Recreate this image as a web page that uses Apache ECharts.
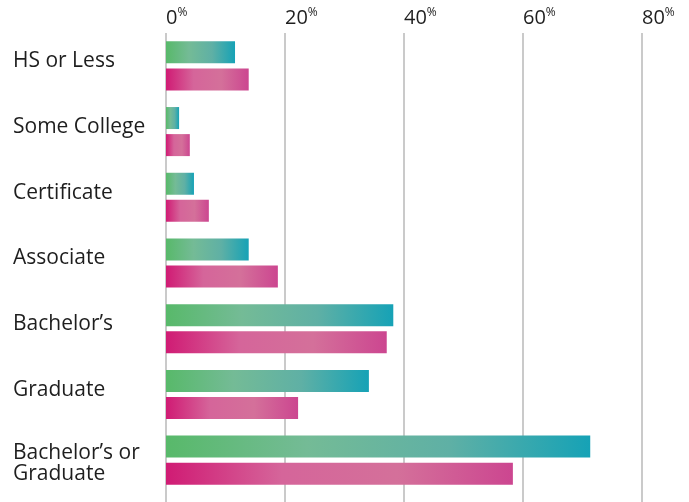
<!DOCTYPE html>
<html>
<head>
<meta charset="utf-8">
<script src="https://cdn.jsdelivr.net/npm/echarts@6/dist/echarts.min.js"></script>
<style>
  html, body { margin: 0; padding: 0; background: #fff; }
  #chart { width: 689px; height: 502px; }
</style>
</head>
<body>
<div id="chart"></div>
<script>
const categories = ['HS or Less', 'Some College', 'Certificate', 'Associate', 'Bachelor’s', 'Graduate', 'Bachelor’s or\nGraduate'];
const greenValues = [11.6, 2.2, 4.7, 13.9, 38.2, 34.1, 71.3];
const pinkValues = [13.9, 4.0, 7.2, 18.8, 37.1, 22.2, 58.3];
const ticks = [0, 20, 40, 60, 80];

const font = '"Open Sans", "Noto Sans", sans-serif';

const chart = echarts.init(document.getElementById('chart'));

// horizontal gradient in each bar's own box
function grad(stops) {
  return new echarts.graphic.LinearGradient(0, 0, 1, 0, stops.map((c, i) => ({ offset: i / (stops.length - 1), color: c })));
}
const greenGrad = grad(['#58b96a', '#74bb96', '#5fb0a5', '#16a2b6']);
const pinkGrad = grad(['#d01b74', '#d5659a', '#d4709a', '#cc4690']);

const option = {
  animation: false,
  grid: [
    // grid lines, run down to the bottom edge
    { left: 166, right: 47, top: 33, bottom: 0 },
    // bars
    { left: 166, right: 47, top: 33, bottom: 9 }
  ],
  xAxis: [
    {
      gridIndex: 0,
      type: 'value',
      position: 'top',
      min: ticks[0],
      max: ticks[ticks.length - 1],
      interval: 20,
      axisLine: { show: false },
      axisTick: { show: false },
      splitLine: { lineStyle: { color: '#b8b8b8', width: 1.5 } },
      axisLabel: {
        align: 'left',
        margin: 4,
        formatter: v => '{n|' + v + '}{p|%}',
        rich: {
          n: { fontFamily: font, fontSize: 20, color: '#1e1e1e', lineHeight: 22 },
          p: { fontFamily: font, fontSize: 12, color: '#1e1e1e', verticalAlign: 'top', lineHeight: 22, padding: [0, 0, 7, 0] }
        }
      }
    },
    {
      gridIndex: 1,
      type: 'value',
      min: ticks[0],
      max: ticks[ticks.length - 1],
      show: false
    }
  ],
  yAxis: [
    {
      gridIndex: 0,
      type: 'category',
      data: categories,
      show: false
    },
    {
      gridIndex: 1,
      type: 'category',
      data: categories,
      inverse: true,
      axisLine: { show: false },
      axisTick: { show: false },
      axisLabel: {
        align: 'left',
        margin: 153,
        formatter: v => v.indexOf('\n') >= 0
          ? v.split('\n').map(s => '{b|' + s + '}').join('\n')
          : '{a|' + v + '}',
        rich: {
          a: { fontFamily: font, fontSize: 21, lineHeight: 22, color: '#1e1e1e', padding: [0, 0, 9, 0] },
          b: { fontFamily: font, fontSize: 21, lineHeight: 21, color: '#1e1e1e', padding: [7, 0, 0, 0] }
        }
      }
    }
  ],
  series: [
    {
      name: 'Green',
      type: 'bar',
      xAxisIndex: 1,
      yAxisIndex: 1,
      data: greenValues,
      barWidth: 22,
      barGap: '23%',
      itemStyle: { color: greenGrad }
    },
    {
      name: 'Pink',
      type: 'bar',
      xAxisIndex: 1,
      yAxisIndex: 1,
      data: pinkValues,
      barWidth: 22,
      itemStyle: { color: pinkGrad }
    }
  ]
};

chart.setOption(option);
</script>
</body>
</html>
